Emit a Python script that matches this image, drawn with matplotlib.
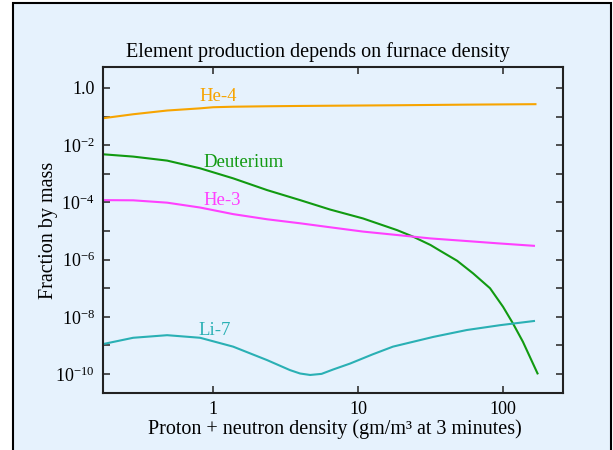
import numpy as np
import matplotlib.pyplot as plt
from matplotlib.patches import Rectangle
from matplotlib.ticker import FixedLocator, NullLocator, NullFormatter

plt.rcParams['font.family'] = ['Liberation Serif', 'DejaVu Serif']
plt.rcParams['font.size'] = 14

bg = '#e6f2fd'

# (density in gm/m^3, fraction by mass)
he4_x = [0.174, 0.281, 0.482, 0.813, 1.0, 1.374, 2.355, 3.98, 19.5, 56.2, 170]
he4_y = [0.087, 0.120, 0.162, 0.193, 0.211, 0.220, 0.228, 0.234, 0.248, 0.260, 0.270]

deut_x = [0.174, 0.281, 0.482, 0.813, 1.374, 2.355, 3.98, 6.41, 10.8, 18.6,
          24.0, 31.6, 36.8, 48.2, 62.1, 81.3, 100, 117, 137, 174]
deut_y = [4.79e-3, 3.98e-3, 2.88e-3, 1.55e-3, 6.92e-4, 2.69e-4, 1.20e-4, 5.62e-5,
          2.75e-5, 1.07e-5, 6.31e-6, 3.24e-6, 2.04e-6, 9.12e-7, 3.31e-7, 1.0e-7,
          2.24e-8, 5.89e-9, 1.35e-9, 9.8e-11]

he3_x = [0.174, 0.281, 0.482, 0.813, 1.374, 2.355, 3.98, 6.41, 10.8, 18.6,
         31.6, 52.5, 91.2, 166]
he3_y = [1.20e-4, 1.18e-4, 9.77e-5, 6.61e-5, 3.89e-5, 2.57e-5, 1.86e-5, 1.35e-5,
         9.55e-6, 7.24e-6, 5.50e-6, 4.57e-6, 3.72e-6, 3.02e-6]

li7_x = [0.174, 0.281, 0.482, 0.813, 1.374, 2.355, 3.39, 3.98, 4.67, 5.6, 6.73,
         8.81, 12.6, 17.4, 33.1, 56.2, 95.5, 166]
li7_y = [1.12e-9, 1.86e-9, 2.29e-9, 1.86e-9, 9.12e-10, 3.09e-10, 1.38e-10, 1.05e-10,
         9.33e-11, 1.02e-10, 1.45e-10, 2.34e-10, 4.90e-10, 9.12e-10, 2.0e-9,
         3.47e-9, 5.13e-9, 7.24e-9]

x_ticks = [1, 10, 100]
y_major = [10.0**e for e in range(0, -11, -2)]
y_labels = ['1.0', r'$\mathregular{10^{-2}}$', r'$\mathregular{10^{-4}}$',
            r'$\mathregular{10^{-6}}$', r'$\mathregular{10^{-8}}$', r'$\mathregular{10^{-10}}$']

fig = plt.figure(figsize=(6.13, 4.5), dpi=100)
fig.patch.set_facecolor('white')
# panel frame
fig.patches.append(Rectangle((13/613, -0.05), (611-13)/613, 1.05 - 3/450,
                             transform=fig.transFigure, facecolor=bg,
                             edgecolor='black', lw=1.5, zorder=-5))

ax = fig.add_axes([103/613, 1-393/450, 460/613, 326/450])
ax.set_zorder(2)
ax.set_facecolor(bg)
ax.set_xscale('log')
ax.set_yscale('log')
ax.set_xlim(0.174, 259)
ax.set_ylim(10**-10.66, 10**0.73)

kw = dict(lw=1.5, solid_joinstyle='round', solid_capstyle='butt')
ax.plot(he4_x, he4_y, color='#f7a400', **kw)
ax.plot(deut_x, deut_y, color='#119a11', **kw)
ax.plot(he3_x, he3_y, color='#ff40ff', **kw)
ax.plot(li7_x, li7_y, color='#2ab0b4', **kw)

ax.text(1.08, 0.49, 'He-4', color='#f7a400', ha='center', va='center', fontsize=13.5)
ax.text(1.61, 10**-2.59, 'Deuterium', color='#119a11', ha='center', va='center', fontsize=13.5)
ax.text(1.15, 10**-3.95, 'He-3', color='#ff40ff', ha='center', va='center', fontsize=13.5)
ax.text(1.03, 10**-8.46, 'Li-7', color='#2ab0b4', ha='center', va='center', fontsize=13.5)

ax.xaxis.set_major_locator(FixedLocator(x_ticks))
ax.xaxis.set_minor_locator(NullLocator())
ax.set_xticklabels(['1', '10', '100'])
ax.yaxis.set_major_locator(FixedLocator(y_major))
ax.yaxis.set_minor_locator(FixedLocator([10.0**e for e in range(-1, -11, -2)]))
ax.yaxis.set_minor_formatter(NullFormatter())
ax.set_yticklabels(y_labels)
ax.tick_params(which='both', direction='in', top=True, right=True, length=5,
               width=1.2, color='#333333', labelsize=13, pad=6)
for s in ax.spines.values():
    s.set_linewidth(1.5)
    s.set_color('#222222')

ax.set_title('Element production depends on furnace density', fontsize=14.5,
             pad=7, x=0.467)
ax.set_xlabel('Proton + neutron density (gm/m\u00b3 at 3 minutes)', fontsize=14.5,
              labelpad=1, x=0.505)
ax.set_ylabel('Fraction by mass', fontsize=14.5, labelpad=-2)

fig.savefig('out.png', dpi=100, facecolor=fig.get_facecolor())
